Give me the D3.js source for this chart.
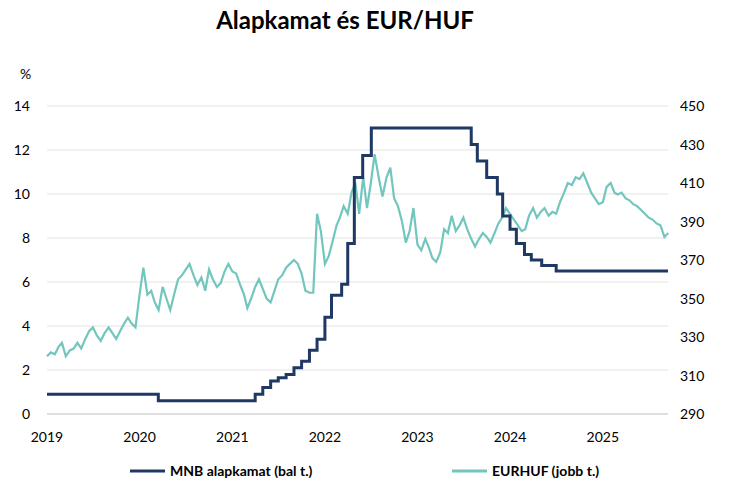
<!DOCTYPE html>
<html><head><meta charset="utf-8">
<script src="https://cdn.jsdelivr.net/npm/d3@7"></script>
<style>body{margin:0;background:#fff}text{font-family:Lato,"Open Sans",sans-serif}</style>
</head><body><svg id="chart" width="748" height="499"></svg>
<script>
// MNB base rate steps (date, %)
var rateDates = ["2019-01-01","2020-03-15","2021-04-01","2021-05-01","2021-06-01","2021-07-01","2021-08-01","2021-09-01","2021-10-01","2021-11-01","2021-12-01","2022-01-01","2022-01-27","2022-03-08","2022-04-01","2022-04-27","2022-05-30","2022-07-03","2023-08-01","2023-08-25","2023-10-01","2023-11-12","2023-12-03","2024-01-01","2024-01-26","2024-02-27","2024-03-25","2024-05-05","2024-07-01","2025-09-15"];
var rateValues = [0.9,0.6,0.9,1.2,1.5,1.65,1.8,2.1,2.4,2.9,3.4,4.4,5.4,5.9,7.75,10.75,11.75,13,12.25,11.5,10.75,10,9,8.4,7.75,7.25,7,6.75,6.5,6.5];
// EURHUF, two readings per month from Jan 2019
var eurhuf = [320,322,321,325,327,320,323,324,327,324,329,333,335,331,328,332,335,332,329,333,337,340,337,335,
352,366,352,354,348,344,356,350,344,352,360,362,365,368,362,357,361,354,365,360,356,358,364,368,
364,363,357,352,345,350,356,360,355,350,348,354,360,362,366,368,370,368,363,354,353,353,394,385,
368,372,380,388,392,398,394,405,410,394,413,397,410,425,413,403,413,418,402,398,390,379,385,397,
378,375,381,376,371,369,374,386,384,393,385,388,392,386,381,377,381,384,382,379,384,389,392,397,
394,391,388,385,386,393,397,392,395,397,393,395,394,400,405,410,409,413,412,415,410,405,402,399,
400,408,410,405,404,405,402,401,399,398,396,394,392,391,389,388,382,384];
var leftTicks = [0,2,4,6,8,10,12,14];
var rightTicks = [290,310,330,350,370,390,410,430,450];
var yearTicks = [2019,2020,2021,2022,2023,2024,2025];

var svg = d3.select("#chart");
var parse = d3.timeParse("%Y-%m-%d");
var x = d3.scaleTime().domain([new Date(2019,0,1), new Date(2025,8,15)]).range([47,668]);
var yl = d3.scaleLinear().domain([0,14]).range([414,106]);
var yr = d3.scaleLinear().domain([290,450]).range([414,106]);

var fx = eurhuf.map(function(v,i){ return {d: new Date(2019, Math.floor(i/2), i%2 ? 16 : 1), v: v}; });

svg.append("text").attr("x",345).attr("y",29).attr("text-anchor","middle")
  .style("font-size","24px").style("font-weight","bold").text("Alapkamat és EUR/HUF");
svg.append("text").attr("x",20).attr("y",79).style("font-size","14px").text("%");

leftTicks.forEach(function(t){
  if (t > 0) svg.append("line").attr("x1",47).attr("x2",668).attr("y1",yl(t)).attr("y2",yl(t)).attr("stroke","#e3e3e3");
  svg.append("text").attr("x",30).attr("y",yl(t)+5).attr("text-anchor","end").style("font-size","14px").text(t);
});
rightTicks.forEach(function(t){
  svg.append("text").attr("x",680).attr("y",yr(t)+5).style("font-size","14px").text(t);
});
yearTicks.forEach(function(t){
  svg.append("text").attr("x",x(new Date(t,0,1))).attr("y",442).attr("text-anchor","middle").style("font-size","14px").text(t);
});
svg.append("line").attr("x1",47).attr("x2",668).attr("y1",414).attr("y2",414).attr("stroke","#bfbfbf");

svg.append("path").datum(fx).attr("fill","none").attr("stroke","#72c6bd").attr("stroke-width",2.2)
  .attr("d", d3.line().x(function(d){return x(d.d);}).y(function(d){return yr(d.v);}));

var rd = rateDates.map(function(s,i){ return {d: parse(s), v: rateValues[i]}; });
svg.append("path").datum(rd).attr("fill","none").attr("stroke","#1f3864").attr("stroke-width",3)
  .attr("d", d3.line().curve(d3.curveStepAfter).x(function(d){return x(d.d);}).y(function(d){return yl(d.v);}));

svg.append("line").attr("x1",130).attr("x2",165).attr("y1",471).attr("y2",471).attr("stroke","#1f3864").attr("stroke-width",3);
svg.append("text").attr("x",170).attr("y",476).style("font-size","14px").style("font-weight","bold").text("MNB alapkamat (bal t.)");
svg.append("line").attr("x1",452).attr("x2",487).attr("y1",471).attr("y2",471).attr("stroke","#72c6bd").attr("stroke-width",3);
svg.append("text").attr("x",492).attr("y",476).style("font-size","14px").style("font-weight","bold").text("EURHUF (jobb t.)");
</script></body></html>
